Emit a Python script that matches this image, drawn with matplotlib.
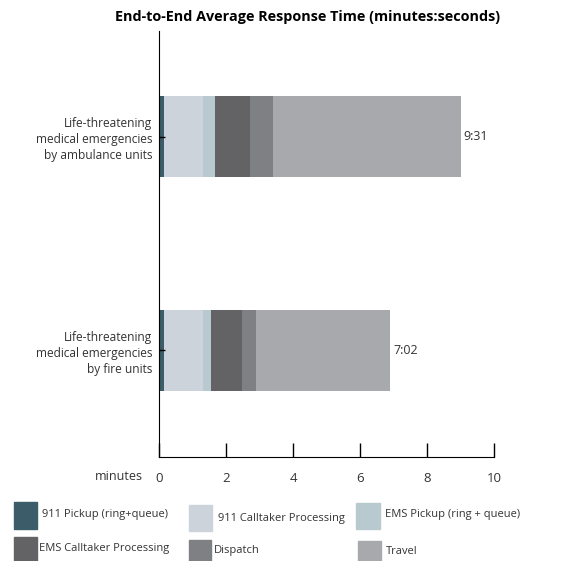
import matplotlib.pyplot as plt
from matplotlib.patches import Rectangle

plt.rcParams['font.family'] = ['Open Sans', 'DejaVu Sans']

# data (minutes), bottom bar first
categories = ["Life-threatening\nmedical emergencies\nby fire units",
              "Life-threatening\nmedical emergencies\nby ambulance units"]
pickup = [0.15, 0.15]
calltaker = [1.16, 1.15]
ems_pickup = [0.23, 0.36]
ems_calltaker = [0.93, 1.06]
dispatch = [0.42, 0.67]
travel = [4.02, 5.61]
totals = ["7:02", "9:31"]

series_names = ["911 Pickup (ring+queue)", "911 Calltaker Processing", "EMS Pickup (ring + queue)",
                "EMS Calltaker Processing", "Dispatch", "Travel"]
colors = ["#3b5c68", "#cdd3da", "#b9c9d0", "#636365", "#7f8083", "#a8a9ac"]
series = [pickup, calltaker, ems_pickup, ems_calltaker, dispatch, travel]

W, H = 571, 561
fig = plt.figure(figsize=(W / 100, H / 100), dpi=100)
ax = fig.add_axes([159 / W, 1 - 457 / H, (494 - 159) / W, (457 - 31) / H])

ypos = [0, 1]
left = [0.0, 0.0]
for vals, c in zip(series, colors):
    ax.barh(ypos, vals, left=left, height=0.38, color=c, edgecolor='none')
    left = [l + v for l, v in zip(left, vals)]

for y, end, t in zip(ypos, left, totals):
    ax.text(end + 0.1, y, t, va='center', ha='left', fontsize=9, color='#333333')

ax.set_xlim(0, 10)
ax.set_ylim(-0.5, 1.495)
ax.set_xticks([0, 2, 4, 6, 8, 10])
ax.set_yticks(ypos)
ax.set_yticklabels(categories, fontsize=8.6, color='#333333', linespacing=1.3)
ax.tick_params(axis='x', direction='in', length=10, width=1, pad=11, labelsize=9.5, labelcolor='#333333')
ax.tick_params(axis='y', direction='in', length=4, width=1, pad=5)
for s in ['top', 'right']:
    ax.spines[s].set_visible(False)

fig.text(95 / W, 1 - 477 / H, "minutes", fontsize=9, color='#333333', va='center', ha='left')
fig.text(308 / W, 1 - 17 / H, "End-to-End Average Response Time (minutes:seconds)",
         fontsize=10.4, fontweight='bold', ha='center', va='center')

# legend drawn by hand, two rows of three
boxes = [(14, 502, 23, 27), (189, 505, 23, 26), (356, 503, 24, 26),
         (14, 537, 23, 24), (189, 540, 22, 21), (358, 541, 23, 20)]
text_pos = [(42, 515), (218, 519), (385, 515), (39, 548), (214, 551), (386, 551)]
for (x, y, w, h), (tx, ty), name, c in zip(boxes, text_pos, series_names, colors):
    fig.patches.append(Rectangle((x / W, 1 - (y + h) / H), w / W, h / H,
                                 transform=fig.transFigure, color=c))
    fig.text(tx / W, 1 - ty / H, name, fontsize=8, color='#333333', va='center', ha='left')

fig.savefig("out.png", dpi=100)
